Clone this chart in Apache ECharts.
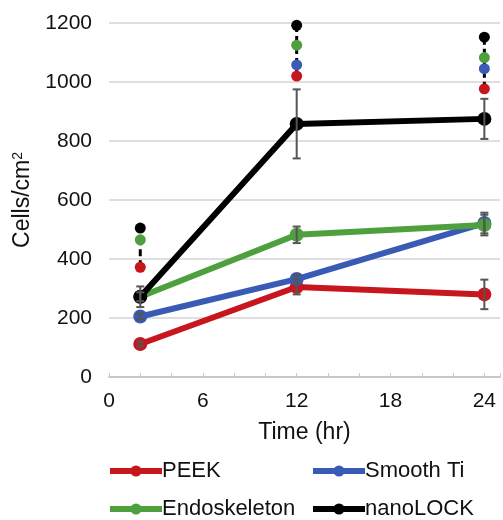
<!DOCTYPE html>
<html>
<head>
    <meta charset="UTF-8">
    <title></title>
    <style>
        body { margin: 0; background: #fff; }
        #container { width: 503px; height: 520px; }
    </style>
</head>
<body>
    <div id="container"></div>
    <script src="https://cdn.jsdelivr.net/npm/echarts@6/dist/echarts.min.js"></script>
    <script>
        // time points (hr)
        var times = [2, 12, 24];
        var xTicks = [0, 6, 12, 18, 24];

        var peek = [112, 305, 280];
        var peekErr = [8, 25, 50];
        var smoothTi = [205, 332, 522];
        var smoothTiErr = [10, 15, 35];
        var endo = [272, 482, 515];
        var endoErr = [15, 28, 35];
        var nano = [272, 858, 875];
        var nanoErr = [35, 117, 68];

        // significance markers above each time point
        var sigNano = [505, 1192, 1152];
        var sigEndo = [465, 1125, 1083];
        var sigTi = [null, 1058, 1045];
        var sigPeek = [372, 1020, 977];
        var sigTop = [465, 1192, 1152];
        var sigBottom = [372, 1020, 977];

        var names = ['PEEK', 'Smooth Ti', 'Endoskeleton', 'nanoLOCK'];
        var colors = ['#c8161e', '#3a5bb5', '#4ea03e', '#000000'];
        var values = [peek, smoothTi, endo, nano];
        var errs = [peekErr, smoothTiErr, endoErr, nanoErr];
        var sigs = [sigPeek, sigTi, sigEndo, sigNano];

        var font = '"Liberation Sans", Arial, sans-serif';

        var series = [];
        names.forEach(function (n, k) {
            series.push({
                name: n,
                type: 'line',
                data: times.map(function (t, i) { return [t, values[k][i]]; }),
                symbol: 'circle',
                symbolSize: 14,
                lineStyle: { width: 6, color: colors[k] },
                itemStyle: { color: colors[k] },
                z: 3 + k
            });
        });

        // error bars
        var errData = [];
        names.forEach(function (n, k) {
            times.forEach(function (t, i) {
                errData.push([t, values[k][i] - errs[k][i], values[k][i] + errs[k][i]]);
            });
        });
        series.push({
            type: 'custom',
            data: errData,
            z: 10,
            silent: true,
            renderItem: function (params, api) {
                var lo = api.coord([api.value(0), api.value(1)]);
                var hi = api.coord([api.value(0), api.value(2)]);
                var w = 4;
                var st = { stroke: '#555', lineWidth: 2 };
                return {
                    type: 'group',
                    children: [
                        { type: 'line', shape: { x1: lo[0], y1: lo[1], x2: hi[0], y2: hi[1] }, style: st },
                        { type: 'line', shape: { x1: lo[0] - w, y1: lo[1], x2: lo[0] + w, y2: lo[1] }, style: st },
                        { type: 'line', shape: { x1: hi[0] - w, y1: hi[1], x2: hi[0] + w, y2: hi[1] }, style: st }
                    ]
                };
            }
        });

        // dashed lines for significance groups
        series.push({
            type: 'custom',
            data: times.map(function (t, i) { return [t, sigBottom[i], sigTop[i]]; }),
            z: 11,
            silent: true,
            renderItem: function (params, api) {
                var lo = api.coord([api.value(0), api.value(1)]);
                var hi = api.coord([api.value(0), api.value(2)]);
                return {
                    type: 'line',
                    shape: { x1: lo[0], y1: lo[1], x2: hi[0], y2: hi[1] },
                    style: { stroke: '#000', lineWidth: 3, lineDash: [7, 4] }
                };
            }
        });

        // significance dots
        sigs.forEach(function (s, k) {
            series.push({
                type: 'scatter',
                data: times.map(function (t, i) { return s[i] == null ? null : [t, s[i]]; }).filter(function (d) { return d; }),
                symbolSize: 11,
                itemStyle: { color: colors[k], opacity: 1 },
                z: 12,
                silent: true
            });
        });

        function legendAt(name, left, top) {
            return {
                data: [name],
                left: left, top: top,
                padding: 0,
                itemWidth: 52, itemHeight: 14, itemGap: 0,
                lineStyle: { width: 6 },
                textStyle: { fontSize: 22, color: '#111', fontFamily: font, padding: [0, 0, 0, -5] }
            };
        }

        var myChart = echarts.init(document.getElementById('container'));
        myChart.setOption({
            animation: false,
            textStyle: { fontFamily: font },
            grid: { left: 109, right: 0, top: 23, bottom: 143, containLabel: false },
            legend: [
                legendAt('PEEK', 107, 460),
                legendAt('Smooth Ti', 310, 460),
                legendAt('Endoskeleton', 107, 498),
                legendAt('nanoLOCK', 310, 498)
            ],
            xAxis: {
                type: 'value',
                min: 0, max: 25, interval: 2,
                name: 'Time (hr)',
                nameLocation: 'middle',
                nameGap: 44,
                nameTextStyle: { fontSize: 23, color: '#111', fontFamily: font },
                axisLine: { lineStyle: { color: '#c8c8c8', width: 2 } },
                axisTick: { inside: true, length: 4, lineStyle: { color: '#c8c8c8' } },
                axisLabel: {
                    fontSize: 21, color: '#111', margin: 14,
                    formatter: function (v) { return xTicks.indexOf(v) >= 0 ? String(v) : ''; }
                },
                splitLine: { show: false }
            },
            yAxis: {
                type: 'value',
                min: 0, max: 1200, interval: 200,
                name: 'Cells/cm{sup|2}',
                nameLocation: 'middle',
                nameGap: 73,
                nameTextStyle: {
                    fontSize: 23, color: '#111', fontFamily: font,
                    rich: { sup: { fontSize: 14, verticalAlign: 'top', padding: [0, 0, 10, 0], color: '#111', fontFamily: font } }
                },
                axisLine: { show: false },
                axisTick: { show: false },
                axisLabel: { fontSize: 21, color: '#111', margin: 17, formatter: function (v) { return String(v); } },
                splitLine: { lineStyle: { color: '#d4d4d4', width: 1.5 } }
            },
            series: series
        });
    </script>
</body>
</html>
